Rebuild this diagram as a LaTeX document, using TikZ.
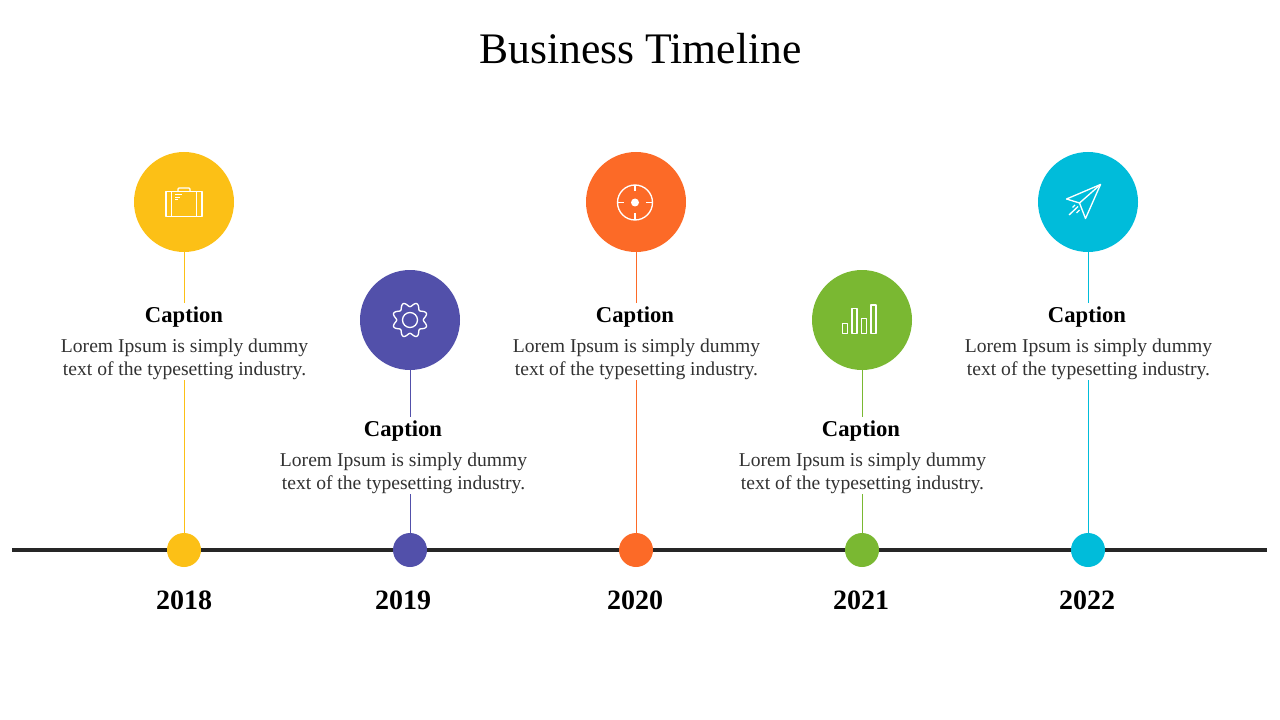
\documentclass[tikz,border=0pt]{standalone}
\usepackage{fontspec}
\setmainfont{Liberation Serif}
\usepackage{xcolor}
\usetikzlibrary{positioning}
\definecolor{axisblack}{RGB}{38,38,38}
\definecolor{bodygray}{RGB}{50,50,50}
\definecolor{sunyellow}{RGB}{252,192,22}
\definecolor{deeppurple}{RGB}{82,80,170}
\definecolor{brightorange}{RGB}{252,106,39}
\definecolor{leafgreen}{RGB}{122,184,50}
\definecolor{skycyan}{RGB}{0,188,218}

\begin{document}
\begin{tikzpicture}[
        x=0.75pt, y=-0.75pt,
        every node/.style={outer sep=0pt},
        bigdisc/.style={circle, fill=#1, minimum size=75pt, inner sep=0pt},
        smalldot/.style={circle, fill=#1, minimum size=25.5pt, inner sep=0pt},
        stem/.style={line width=0.75pt, #1},
        axisline/.style={line width=3pt, axisblack},
        icon/.style={draw=white, line width=1pt, line join=round},
        heading/.style={font=\fontsize{32.7}{36}\selectfont},
        caption/.style={font=\fontsize{17}{20}\selectfont\bfseries, minimum height=21.75pt, inner sep=0pt},
        bodytext/.style={font=\fontsize{14.7}{17.25}\selectfont, text=bodygray, align=center,
                   minimum height=32.25pt, inner sep=0pt},
        yearlabel/.style={font=\fontsize{21}{24}\selectfont\bfseries, minimum height=18pt, inner sep=0pt}
    ]
        \useasboundingbox (0,0) rectangle (1280,720);
        \node[heading] (title) at (640.7,49) {Business Timeline};

        \coordinate (axisL) at (12,549.5);
        \coordinate (axisR) at (1267,549.5);
        \draw[axisline] (axisL) -- (axisR);

        % dots on the axis
        \node[smalldot=sunyellow] (dotA) at (184,550) {};
        \node[smalldot=deeppurple, right=144pt of dotA] (dotB) {};
        \node[smalldot=brightorange, right=144pt of dotB] (dotC) {};
        \node[smalldot=leafgreen, right=144pt of dotC] (dotD) {};
        \node[smalldot=skycyan, right=144pt of dotD] (dotE) {};

        % big discs
        \node[bigdisc=sunyellow, above=210.75pt of dotA] (bigA) {};
        \node[bigdisc=deeppurple, above=122.25pt of dotB] (bigB) {};
        \node[bigdisc=brightorange, above=210.75pt of dotC] (bigC) {};
        \node[bigdisc=leafgreen, above=122.25pt of dotD] (bigD) {};
        \node[bigdisc=skycyan, above=210.75pt of dotE] (bigE) {};

        % captions
        \node[caption, below=38.25pt of bigA] (capA) {Caption};
        \node[caption, below=35.25pt of bigB, xshift=-5.25pt] (capB) {Caption};
        \node[caption, below=38.25pt of bigC, xshift=-0.75pt] (capC) {Caption};
        \node[caption, below=35.25pt of bigD, xshift=-0.75pt] (capD) {Caption};
        \node[caption, below=38.25pt of bigE, xshift=-0.75pt] (capE) {Caption};

        \node[bodytext, below=4.1pt of capA, xshift=0.4pt] (txtA) {Lorem Ipsum is simply dummy\\text of the typesetting industry.};
        \node[bodytext, below=4.1pt of capB, xshift=0.4pt] (txtB) {Lorem Ipsum is simply dummy\\text of the typesetting industry.};
        \node[bodytext, below=4.1pt of capC, xshift=1.1pt] (txtC) {Lorem Ipsum is simply dummy\\text of the typesetting industry.};
        \node[bodytext, below=4.1pt of capD, xshift=1.1pt] (txtD) {Lorem Ipsum is simply dummy\\text of the typesetting industry.};
        \node[bodytext, below=4.1pt of capE, xshift=1.1pt] (txtE) {Lorem Ipsum is simply dummy\\text of the typesetting industry.};

        % years
        \node[yearlabel, below=15.75pt of dotA] (yearA) {2018};
        \node[yearlabel, below=15.75pt of dotB, xshift=-5.25pt] (yearB) {2019};
        \node[yearlabel, below=15.75pt of dotC, xshift=-0.75pt] (yearC) {2020};
        \node[yearlabel, below=15.75pt of dotD, xshift=-0.75pt] (yearD) {2021};
        \node[yearlabel, below=15.75pt of dotE, xshift=-0.75pt] (yearE) {2022};

        % stems, broken by the text
        \draw[stem=sunyellow] (bigA) -- (bigA |- capA.north);
        \draw[stem=sunyellow] (bigA |- txtA.south) -- (dotA);
        \draw[stem=deeppurple] (bigB) -- (bigB |- capB.north);
        \draw[stem=deeppurple] (bigB |- txtB.south) -- (dotB);
        \draw[stem=brightorange] (bigC) -- (bigC |- capC.north);
        \draw[stem=brightorange] (bigC |- txtC.south) -- (dotC);
        \draw[stem=leafgreen] (bigD) -- (bigD |- capD.north);
        \draw[stem=leafgreen] (bigD |- txtD.south) -- (dotD);
        \draw[stem=skycyan] (bigE) -- (bigE |- capE.north);
        \draw[stem=skycyan] (bigE |- txtE.south) -- (dotE);

        % case
        \begin{scope}[shift={(bigA.center)}]
            \draw[icon] (-18,-10.5) rectangle (18,14.5);
            \draw[icon] (-6,-10.5) -- (-6,-13) -- (-5,-14) -- (5,-14) -- (6,-13) -- (6,-10.5);
            \draw[icon, line width=0.5pt] (-12.3,-10.5) -- (-12.3,14.5) (12.7,-10.5) -- (12.7,14.5);
            \draw[icon, line width=0.5pt] (-9,-7.5) -- (-2,-7.5) (-9,-5) -- (-4,-5) (-9,-2.5) -- (-6,-2.5);
        \end{scope}
        % gear
        \begin{scope}[shift={(bigB.center)}]
            \draw[icon] plot[domain=0:360, samples=97, smooth] (\x+22.5:{15.5+2.2*cos(8*\x)}) -- cycle;
            \draw[icon] (0,0) circle (7.5);
        \end{scope}
        % target
        \begin{scope}[shift={(bigC.center)}]
            \draw[icon] (-1,0.5) circle (17.5);
            \fill[white] (-1,0.5) circle (4);
            \draw[icon] (-1,-17) -- (-1,-10.5) (-1,18) -- (-1,11.5);
            \draw[icon] (-18.5,0.5) -- (-12,0.5) (16.5,0.5) -- (10,0.5);
        \end{scope}
        % bars
        \begin{scope}[shift={(bigD.center)}]
            \draw[icon] (-19.5,3.5) rectangle (-14.5,13.5);
            \draw[icon] (-10,-11.5) rectangle (-5,13.5);
            \draw[icon] (-0.5,-1.5) rectangle (4.5,13.5);
            \draw[icon] (9,-15) rectangle (14,13.5);
        \end{scope}
        % paper plane
        \begin{scope}[shift={(bigE.center)}]
            \draw[icon] (-21.5,-3) -- (12.5,-17.5) -- (-2.5,16.5) -- (-8.5,1) -- cycle;
            \draw[icon] (-8.5,1) -- (12.5,-17.5);
            \draw[icon] (-19,13) -- (-10,4.5) (-15.5,5.5) -- (-13,3) (-11.5,11) -- (-8.5,8);
        \end{scope}
    \end{tikzpicture}
\end{document}
